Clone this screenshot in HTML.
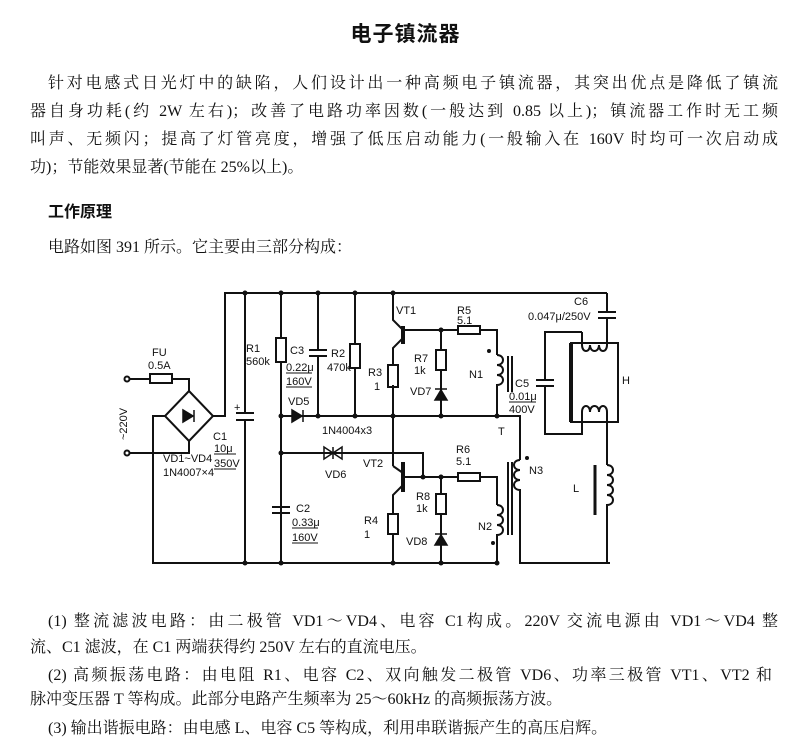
<!DOCTYPE html>
<html><head><meta charset="utf-8"><style>
html,body{margin:0;padding:0;background:#fff;}
body{width:811px;height:743px;position:relative;overflow:hidden;font-family:"Liberation Serif","Noto Serif CJK SC",serif;color:#111;}
.l{position:absolute;font-size:16px;line-height:20px;white-space:nowrap;}
.j{text-align:justify;text-align-last:justify;white-space:normal;}
.t{position:absolute;left:0;width:811px;text-align:center;top:18px;font-size:21px;font-weight:bold;font-family:"Noto Sans CJK SC",sans-serif;letter-spacing:1px;}
svg{position:absolute;left:0;top:0;}
svg text{font-family:"Liberation Sans",sans-serif;font-size:11px;fill:#111;}
</style></head><body>
<div class="t">电子镇流器</div>
<div class="l j" style="left:48px;top:74px;width:730px">针对电感式日光灯中的缺陷，人们设计出一种高频电子镇流器，其突出优点是降低了镇流</div>
<div class="l j" style="left:30px;top:102px;width:748px">器自身功耗(约 2W 左右)；改善了电路功率因数(一般达到 0.85 以上)；镇流器工作时无工频</div>
<div class="l j" style="left:30px;top:130px;width:748px">叫声、无频闪；提高了灯管亮度，增强了低压启动能力(一般输入在 160V 时均可一次启动成</div>
<div class="l" style="left:30px;top:158px;">功)；节能效果显著(节能在 25%以上)。</div>
<div class="l" style="left:48px;top:200px;font-weight:bold;font-family:'Noto Sans CJK SC',sans-serif;">工作原理</div>
<div class="l" style="left:48px;top:238px;">电路如图 391 所示。它主要由三部分构成：</div>

<div class="l j" style="left:48px;top:612px;width:730px">(1) 整流滤波电路：由二极管 VD1～VD4、电容 C1构成。220V 交流电源由 VD1～VD4 整</div>
<div class="l" style="left:30px;top:638px;">流、C1 滤波，在 C1 两端获得约 250V 左右的直流电压。</div>
<div class="l j" style="left:48px;top:666px;width:724px">(2) 高频振荡电路：由电阻 R1、电容 C2、双向触发二极管 VD6、功率三极管 VT1、VT2 和</div>
<div class="l" style="left:30px;top:690px;">脉冲变压器 T 等构成。此部分电路产生频率为 25～60kHz 的高频振荡方波。</div>
<div class="l" style="left:48px;top:719px;">(3) 输出谐振电路：由电感 L、电容 C5 等构成，利用串联谐振产生的高压启辉。</div>

<svg width="811" height="743" viewBox="0 0 811 743">
<g stroke="#111" stroke-width="2" fill="none">
<circle cx="127" cy="379" r="2.5"/><circle cx="127" cy="453" r="2.5"/>
<path d="M129 379H150M172 379H189V391"/>
<rect x="150" y="374" width="22" height="9"/>
<path d="M189 391L213 416L189 441L165 416Z"/>
<path d="M129 453H189V441"/>
<path d="M165 416H153V563H497"/>
<path d="M213 416H225V293H607"/>
<path d="M245 293V413M236 413H254M236 420H254M245 420V563"/>
<path d="M281 293V338M281 362V563"/>
<rect x="276" y="338" width="10" height="24"/>
<path d="M272 507H290M272 513H290"/>
<path d="M318 293V350M309 350H327M309 356H327M318 356V416"/>
<path d="M355 293V344M355 368V416"/>
<rect x="350" y="344" width="10" height="24"/>
<path d="M281 416H497H520V460"/>
<path d="M281 453H423V477"/>
<path d="M393 293V320L403 330"/>
<path d="M403 326V344" stroke-width="4"/>
<path d="M403 338L393 348V365M393 385V466"/>
<rect x="388" y="365" width="10" height="22"/>
<path d="M403 330H458M480 330H497V355"/>
<rect x="458" y="326" width="22" height="8"/>
<path d="M441 330V350M441 370V416"/>
<rect x="436" y="350" width="10" height="20"/>
<path d="M497 355c8 0 8 10 0 10c8 0 8 10 0 10c8 0 8 10 0 10V416"/>
<path d="M508 356V392M512 356V392" stroke-width="2"/>
<path d="M393 466L403 473"/>
<path d="M403 462V492" stroke-width="4"/>
<path d="M403 485L393 495V514M393 534V563"/>
<rect x="388" y="514" width="10" height="20"/>
<path d="M403 477H458M480 477H497V505"/>
<rect x="458" y="473" width="22" height="8"/>
<path d="M441 477V494M441 514V563"/>
<rect x="436" y="494" width="10" height="20"/>
<path d="M497 505c8 0 8 10 0 10c8 0 8 10 0 10c8 0 8 10 0 10V563"/>
<path d="M508 462V535M512 462V535"/>
<path d="M520 460c-8 0-8 10 0 10c-8 0-8 10 0 10c-8 0-8 10 0 10V563H610"/>
<path d="M607 293V312M598 312H616M598 318H616M607 318V345"/>
<path d="M571 343H618V422H571Z"/>
<path d="M571 343V422" stroke-width="4"/>
<path d="M582 332V345c0 8 8 8 8 0c0 8 9 8 9 0c0 8 8 8 8 0"/>
<path d="M582 332H545V380M536 380H554M536 386H554M545 386V434H582V412"/>
<path d="M582 412c0-8 8-8 8 0c0-8 9-8 9 0c0-8 8-8 8 0V465"/>
<path d="M607 465c8 0 8 10 0 10c8 0 8 10 0 10c8 0 8 10 0 10c8 0 8 10 0 10V563"/>
<path d="M595 465V515" stroke-width="3"/>
</g>
<g fill="#111" stroke="#111" stroke-width="1.5">
<path d="M183 410V422L193 416Z"/><path d="M194 410V422"/>
<path d="M292 410V422L302 416Z"/><path d="M303 410V422"/>
<path d="M324 447V459L333 453ZM342 447V459L333 453Z" fill="none"/><path d="M333 447V459"/>
<path d="M435 400H447L441 390Z"/><path d="M435 389H447"/>
<path d="M435 545H447L441 535Z"/><path d="M435 534H447"/>
</g>
<g fill="#111">
<circle cx="245" cy="293" r="2.5"/><circle cx="281" cy="293" r="2.5"/><circle cx="318" cy="293" r="2.5"/><circle cx="355" cy="293" r="2.5"/><circle cx="393" cy="293" r="2.5"/>
<circle cx="245" cy="563" r="2.5"/><circle cx="281" cy="563" r="2.5"/><circle cx="393" cy="563" r="2.5"/><circle cx="441" cy="563" r="2.5"/><circle cx="497" cy="563" r="2.5"/>
<circle cx="281" cy="416" r="2.5"/><circle cx="318" cy="416" r="2.5"/><circle cx="355" cy="416" r="2.5"/><circle cx="393" cy="416" r="2.5"/><circle cx="441" cy="416" r="2.5"/><circle cx="497" cy="416" r="2.5"/>
<circle cx="281" cy="453" r="2.5"/><circle cx="441" cy="330" r="2.5"/><circle cx="441" cy="477" r="2.5"/><circle cx="423" cy="477" r="2.5"/>
<circle cx="489" cy="351" r="2"/><circle cx="527" cy="458" r="2"/><circle cx="493" cy="543" r="2"/>
</g>
<text x="152" y="356">FU</text>
<text x="148" y="369" font-size="10">0.5A</text>
<text x="246" y="352">R1</text><text x="246" y="365">560k</text>
<text x="290" y="354">C3</text><text x="286" y="371">0.22μ</text><text x="286" y="385">160V</text>
<text x="331" y="357">R2</text><text x="327" y="371">470k</text>
<text x="368" y="376">R3</text><text x="374" y="390">1</text>
<text x="396" y="314">VT1</text><text x="457" y="314">R5</text><text x="457" y="324">5.1</text>
<text x="414" y="362">R7</text><text x="414" y="374">1k</text><text x="410" y="395">VD7</text>
<text x="469" y="378">N1</text>
<text x="515" y="387">C5</text><text x="509" y="400">0.01μ</text><text x="509" y="413">400V</text>
<text x="574" y="305">C6</text><text x="528" y="320">0.047μ/250V</text>
<text x="622" y="384">H</text><text x="498" y="435">T</text>
<text x="288" y="405">VD5</text><text x="322" y="434">1N4004x3</text><text x="325" y="478">VD6</text>
<text x="363" y="467">VT2</text><text x="456" y="453">R6</text><text x="456" y="465">5.1</text>
<text x="416" y="500">R8</text><text x="416" y="512">1k</text><text x="406" y="545">VD8</text>
<text x="478" y="530">N2</text><text x="529" y="474">N3</text><text x="573" y="492">L</text>
<text x="364" y="524">R4</text><text x="364" y="538">1</text>
<text x="296" y="512">C2</text><text x="292" y="526">0.33μ</text><text x="292" y="541">160V</text>
<text x="213" y="440">C1</text><text x="214" y="452">10μ</text><text x="214" y="467">350V</text>
<text x="234" y="411" font-size="13">+</text>
<text x="163" y="462">VD1~VD4</text><text x="163" y="476">1N4007×4</text>
<text transform="translate(127,440) rotate(-90)">~220V</text>
<g stroke="#111" stroke-width="1"><path d="M286 373H312M286 387H312M292 528H318M292 543H318M214 454H236M214 469H236M509 402H536"/></g>
</svg>
</body></html>
